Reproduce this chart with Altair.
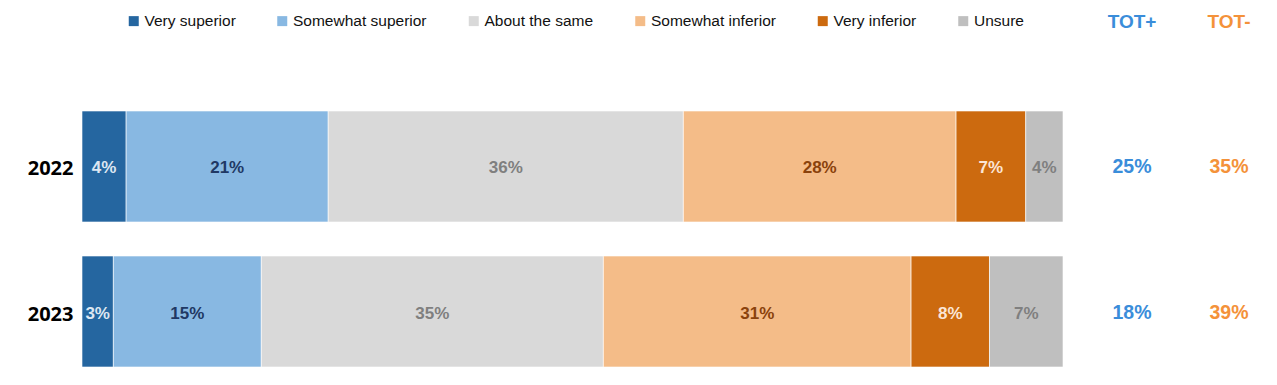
import altair as alt
import pandas as pd

years = ["2022", "2023"]
categories = ["Very superior", "Somewhat superior", "About the same",
              "Somewhat inferior", "Very inferior", "Unsure"]
values_2022 = [4.5, 20.6, 36.2, 27.8, 7.1, 3.8]
values_2023 = [3.2, 15.1, 34.9, 31.4, 8.0, 7.5]
labels_2022 = [4, 21, 36, 28, 7, 4]
labels_2023 = [3, 15, 35, 31, 8, 7]
tot_plus = [25, 18]
tot_minus = [35, 39]

bar_colors = ["#2566A0", "#88B8E2", "#D9D9D9", "#F4BC88", "#CC6A0F", "#BFBFBF"]
text_colors = ["#DDE7F2", "#1F3864", "#7F7F7F", "#8A420C", "#FBE5D6", "#7F7F7F"]
tot_colors = ["#3A8DDA", "#F4923A"]

NARROW = "Liberation Sans Narrow, Arial Narrow, Liberation Sans, Arial, sans-serif"

rows = []
for yr, vals, labs in [("2022", values_2022, labels_2022), ("2023", values_2023, labels_2023)]:
    for i, (c, v, l) in enumerate(zip(categories, vals, labs)):
        rows.append({"year": yr, "category": c, "idx": i, "value": v,
                     "label": f"{l}%", "tcolor": text_colors[i]})
df = pd.DataFrame(rows)

tot_rows = []
for i, yr in enumerate(years):
    tot_rows.append({"year": yr, "col": "TOT+", "label": f"{tot_plus[i]}%", "tcolor": tot_colors[0]})
    tot_rows.append({"year": yr, "col": "TOT-", "label": f"{tot_minus[i]}%", "tcolor": tot_colors[1]})
tot_df = pd.DataFrame(tot_rows)
head_df = pd.DataFrame({"col": ["TOT+", "TOT-"], "tcolor": tot_colors})

yscale = alt.Scale(domain=years, range=[103, 359], paddingInner=0.2345, paddingOuter=0)
xscale = alt.Scale(domain=[0, 1], range=[0, 981], nice=False, zero=False)
colscale = alt.Scale(domain=["TOT+", "TOT-"], range=[1050, 1147], padding=0)

base = alt.Chart(df).transform_stack(
    stack="value", groupby=["year"], as_=["x0", "x1"],
    sort=[alt.SortField("idx")], offset="normalize"
).transform_calculate(mid="(datum.x0 + datum.x1) / 2")

bars = base.mark_bar(stroke="white", strokeWidth=0.6).encode(
    x=alt.X("x0:Q", scale=xscale, axis=None),
    x2="x1:Q",
    y=alt.Y("year:N", scale=yscale, title=None,
            axis=alt.Axis(domain=False, ticks=False, labelPadding=9, labelOffset=3,
                          labelFont="Open Sans", labelFontWeight="bold",
                          labelFontSize=20, labelColor="#000000", grid=False)),
    color=alt.Color("category:N", scale=alt.Scale(domain=categories, range=bar_colors),
                    legend=alt.Legend(orient="none", legendX=44, legendY=5,
                                      direction="horizontal", title=None,
                                      symbolType="square", symbolSize=100,
                                      symbolStrokeWidth=0, labelFont=NARROW,
                                      labelFontSize=15.5, labelColor="#111111",
                                      labelOffset=3, columnPadding=38.5, padding=0,
                                      labelLimit=0, columns=6)),
)

seg_text = base.mark_text(font=NARROW, fontWeight="bold", fontSize=17, baseline="middle",
                          dy=2).encode(
    x=alt.X("mid:Q", scale=xscale, axis=None),
    y=alt.Y("year:N", scale=yscale),
    text="label:N",
    color=alt.Color("tcolor:N", scale=None),
)

tot_text = alt.Chart(tot_df).mark_text(font=NARROW, fontWeight="bold", fontSize=19.5,
                                        baseline="middle", dy=1).encode(
    x=alt.X("col:N", scale=colscale, axis=None),
    y=alt.Y("year:N", scale=yscale),
    text="label:N",
    color=alt.Color("tcolor:N", scale=None),
)

head_text = alt.Chart(head_df).mark_text(font=NARROW, fontWeight="bold", fontSize=19,
                                          baseline="middle").encode(
    x=alt.X("col:N", scale=colscale, axis=None),
    y=alt.value(14),
    text="col:N",
    color=alt.Color("tcolor:N", scale=None),
)

chart = alt.layer(bars, seg_text, tot_text, head_text).resolve_scale(
    x="independent", color="independent"
).properties(
    width=1187, height=369,
    padding={"left": 74, "top": 0, "right": 0, "bottom": 0},
    autosize=alt.AutoSizeParams(type="none"),
).configure_view(stroke=None)

chart.save("out.html", embed_options={"renderer": "svg", "actions": False})
